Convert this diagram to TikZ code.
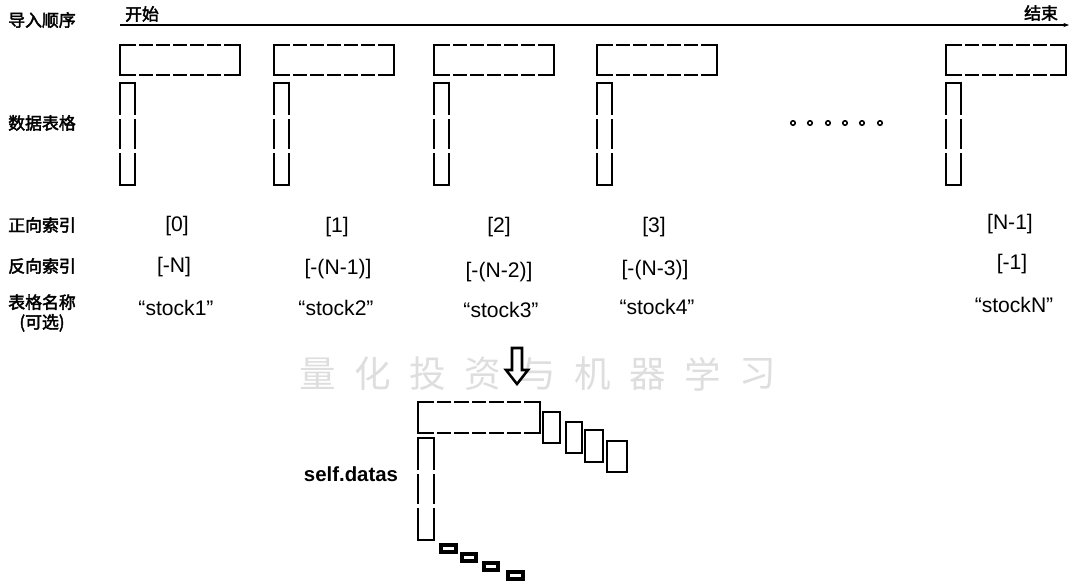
\documentclass[tikz,border=0pt]{standalone}
\usepackage{fontspec}
\setmainfont{Liberation Sans}
\newfontfamily\cjk{Noto Sans CJK SC}
\newfontfamily\cjkb{Noto Sans CJK SC}[FakeBold=2.5]
\usetikzlibrary{arrows.meta}
\tikzset{
  cn/.style={font=\cjkb\fontsize{12}{14}\selectfont, inner sep=0pt, align=center},
  idx/.style={font=\fontsize{15}{17}\selectfont, inner sep=0pt},
  tb/.style={line width=1.8pt, line cap=rect},
  tbt/.style={line width=1.0pt, line cap=rect},
  wm/.style={font=\cjk\fontsize{26}{26}\selectfont, text=black!13, inner sep=0pt},
  dotc/.style={draw, line width=1.1pt, fill=white, circle, minimum size=3.2pt, inner sep=0pt},
}
\newcommand\hcells[5]{%
  \pgfmathsetmacro\cellw{#3/#5}%
  \draw[tb] (#1,#2) -- (#1,#2+#4);
  \draw[tb] (#1+#3,#2) -- (#1+#3,#2+#4);
  \foreach \k in {1,...,#5}{%
    \pgfmathsetmacro\xa{#1+(\k-1)*\cellw+(\k>1)*2.8}%
    \pgfmathsetmacro\xb{#1+\k*\cellw-(\k<#5)*2.8}%
    \draw[tb] (\xa,#2) -- (\xb,#2) (\xa,#2+#4) -- (\xb,#2+#4);
  }}
\newcommand\vcells[5]{%
  \pgfmathsetmacro\cellh{#4/#5}%
  \draw[tb] (#1,#2) -- (#1+#3,#2) (#1,#2+#4) -- (#1+#3,#2+#4);
  \foreach \k in {1,...,#5}{%
    \pgfmathsetmacro\ya{#2+(\k-1)*\cellh+(\k>1)*2.8}%
    \pgfmathsetmacro\yb{#2+\k*\cellh-(\k<#5)*2.8}%
    \draw[tb] (#1,\ya) -- (#1,\yb);
    \draw[tbt] (#1+#3,\ya) -- (#1+#3,\yb);
  }}
\begin{document}
\begin{tikzpicture}[x=0.025cm,y=-0.025cm]
\fill[white] (0,0) rectangle (1080,587);
\useasboundingbox (0,0) rectangle (1080,587);

% left labels
\node[cn] (l1) at (42,20) {导入顺序};
\node[cn] (l2) at (42,123) {数据表格};
\node[cn] (l3) at (42,225) {正向索引};
\node[cn] (l4) at (42,266) {反向索引};
\node[cn] (l5) at (42,313) {表格名称\\(可选)};

% order line
\coordinate (s) at (120,25);
\coordinate (e) at (1069,25);
\draw[line width=0.9pt,-{Stealth[length=4pt,width=3pt]}] (s) -- (e);
\node[cn] (start) at (142,14) {开始};
\node[cn] (end) at (1041,13) {结束};

% tables
\foreach \gx in {120,274,434,597,946}{
  \hcells{\gx}{45}{120}{30}{7}
  \vcells{\gx}{83}{15}{102}{3}
}

% dots
\foreach \dx [count=\i] in {793,810,828,845,862,880}
  \node[dotc] (d\i) at (\dx,123) {};

% forward index
\node[idx] (f0) at (177,226) {[0]};
\node[idx] (f1) at (337,227) {[1]};
\node[idx] (f2) at (499,227) {[2]};
\node[idx] (f3) at (654,227) {[3]};
\node[idx] (fn) at (1010,224) {[N-1]};
% reverse index
\node[idx] (r0) at (174,267) {[-N]};
\node[idx] (r1) at (338,269) {[-(N-1)]};
\node[idx] (r2) at (499,272) {[-(N-2)]};
\node[idx] (r3) at (655,270) {[-(N-3)]};
\node[idx] (rn) at (1012,264) {[-1]};
% names
\node[idx] (n0) at (176,308) {“stock1”};
\node[idx] (n1) at (336,308) {“stock2”};
\node[idx] (n2) at (501,310) {“stock3”};
\node[idx] (n3) at (657,307) {“stock4”};
\node[idx] (nn) at (1014,305) {“stockN”};

% watermark
\foreach \c [count=\i from 0] in {量,化,投,资,与,机,器,学,习}
  \node[wm] (wm\i) at (318+55*\i,374) {\c};

% down arrow
\draw[line width=1.8pt, fill=white, line join=miter]
  (512,348) -- (522,348) -- (522,370) -- (528,370) -- (517,384)
  -- (506,370) -- (512,370) -- cycle;

% self.datas
\node[font=\bfseries\fontsize{14.5}{16}\selectfont, inner sep=0pt] (sd) at (351,474) {self.datas};
\hcells{418}{402}{122}{31}{7}
\vcells{418}{438}{16}{102}{3}

% stair boxes
\draw[line width=1.4pt] (543,412) rectangle (560,443);
\draw[line width=1.4pt] (566,422) rectangle (582,453);
\draw[line width=1.4pt] (585,430) rectangle (603,462);
\draw[line width=1.4pt] (607,441) rectangle (627,472);

% small boxes
\draw[line width=2.2pt] (441,545) rectangle (456,552);
\draw[line width=2.2pt] (462,554) rectangle (476,561);
\draw[line width=2.2pt] (484,563) rectangle (498,570);
\draw[line width=2.2pt] (508,572) rectangle (523,579);
\end{tikzpicture}
\end{document}
